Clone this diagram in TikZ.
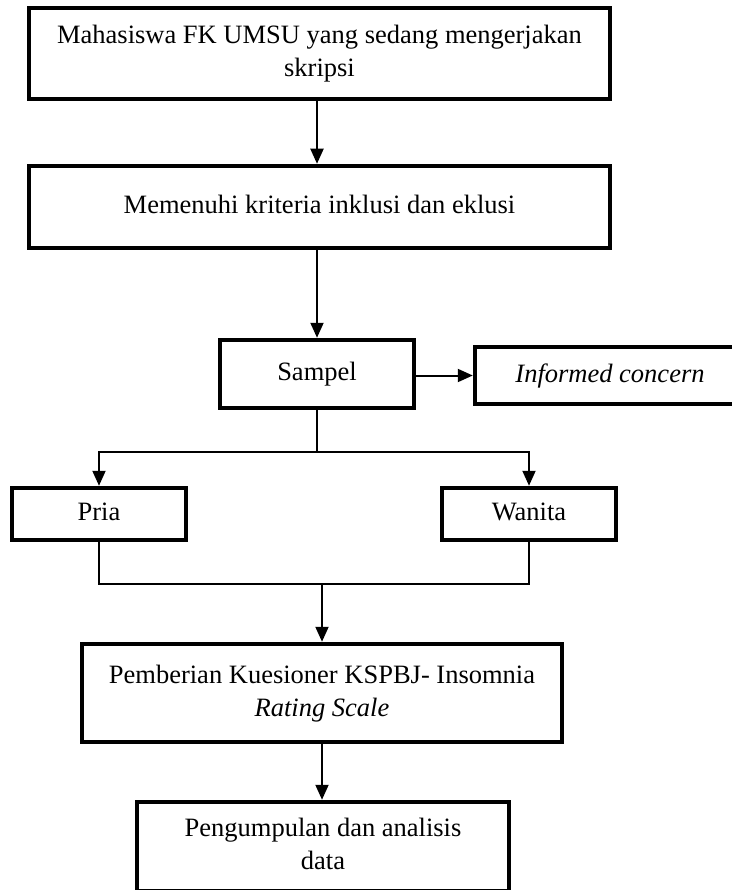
\documentclass[tikz,border=0pt]{standalone}
\usepackage{fontspec}
\setmainfont{Liberation Serif}
\usetikzlibrary{arrows.meta}
\newcommand{\boxtext}[2]{\raisebox{#1}{\begin{tabular}{@{}c@{}}#2\end{tabular}}}
\tikzset{
  flowbox/.style={draw, line width=4.5pt, rectangle, inner sep=0pt, font=\fontsize{26.5}{33}\selectfont},
  conn/.style={line width=2pt},
  arr/.style={conn, -{Triangle[length=15pt,width=13pt]}}
}
\begin{document}
\begin{tikzpicture}[x=1pt,y=-1pt]
\useasboundingbox (0,0) rectangle (731,890);
\node[flowbox, minimum width=581pt, minimum height=91pt] (b1) at (319.5,53.5)
  {\boxtext{0pt}{Mahasiswa FK UMSU yang sedang mengerjakan\\skripsi}};
\node[flowbox, minimum width=581pt, minimum height=82pt] (b2) at (319.5,207)
  {\boxtext{9pt}{Memenuhi kriteria inklusi dan eklusi}};
\node[flowbox, minimum width=194pt, minimum height=68pt] (sampel) at (317,374)
  {\boxtext{4pt}{Sampel}};
\node[flowbox, minimum width=270pt, minimum height=57pt] (inf) at (610,375.5)
  {\boxtext{0pt}{\textit{Informed concern}}};
\node[flowbox, minimum width=174pt, minimum height=52pt] (pria) at (99,514)
  {\boxtext{-4pt}{Pria}};
\node[flowbox, minimum width=174pt, minimum height=52pt] (wanita) at (529,514)
  {\boxtext{-4pt}{Wanita}};
\node[flowbox, minimum width=480pt, minimum height=98pt] (pem) at (322,693)
  {\boxtext{2pt}{Pemberian Kuesioner KSPBJ- Insomnia\\\textit{Rating Scale}}};
\node[flowbox, minimum width=372pt, minimum height=89pt] (last) at (323,846.5)
  {\boxtext{0pt}{Pengumpulan dan analisis\\data}};
\coordinate (ax) at (317,0);
\coordinate (split) at (317,452);
\coordinate (join) at (322,584);
\draw[arr] (b1.south -| ax) -- (b2.north -| ax);
\draw[arr] (b2.south -| ax) -- (sampel.north -| ax);
\draw[arr] (sampel.east |- inf.west) -- (inf.west);
\draw[conn] (sampel.south -| ax) -- (split);
\draw[arr] (split) -| (pria.north);
\draw[arr] (split) -| (wanita.north);
\draw[conn] (pria.south) |- (wanita.south |- join) -- (wanita.south);
\draw[arr] (join) -- (pem.north -| join);
\draw[arr] (pem.south -| join) -- (last.north -| join);
\end{tikzpicture}
\end{document}
